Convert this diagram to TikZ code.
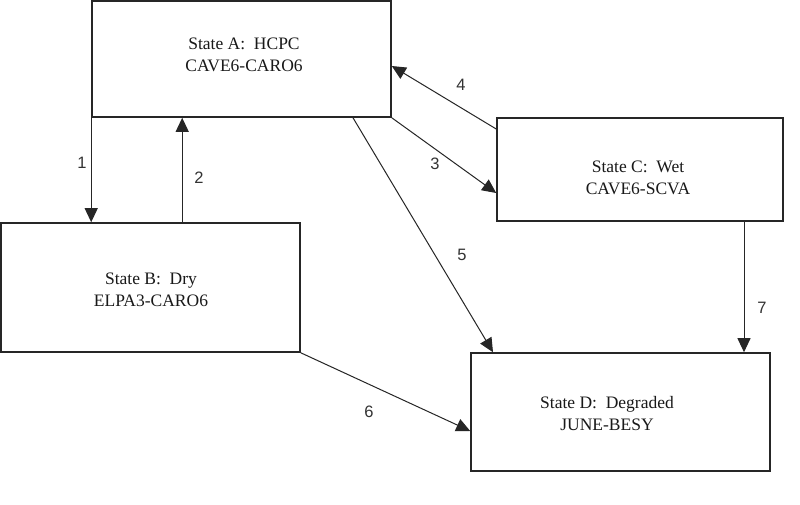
\documentclass[tikz,border=0pt]{standalone}
\usepackage{fontspec}
\setmainfont{Liberation Serif}
\newfontfamily\numfont{Liberation Sans}
\usetikzlibrary{arrows.meta,calc}
\begin{document}
\begin{tikzpicture}[x=1pt,y=-1pt,
  statebox/.style={draw=black!85,line width=1.6pt,inner sep=0pt,anchor=center},
  statetext/.style={align=center,font=\fontsize{17.5}{22}\selectfont,text=black!90,inner sep=0pt},
  conn/.style={draw=black!85,line width=1pt,-{Triangle[length=14pt,width=13pt]}},
  num/.style={font=\numfont\fontsize{16.5}{18}\selectfont,text=black!80,inner sep=0pt}]
\useasboundingbox[fill=white] (0,0) rectangle (800,505);
% boxes
\node[statebox,minimum width=299pt,minimum height=116pt] (A) at (241.5,59) {};
\node[statebox,minimum width=299pt,minimum height=129pt] (B) at (150.5,287.5) {};
\node[statebox,minimum width=286pt,minimum height=103pt] (C) at (640,169.5) {};
\node[statebox,minimum width=299pt,minimum height=118pt] (D) at (620.5,412) {};
% texts
\node[statetext] (At) at (244,55) {State A:~ HCPC\\CAVE6-CARO6};
\node[statetext] (Bt) at (151,290) {State B:~ Dry\\ELPA3-CARO6};
\node[statetext] (Ct) at (638,178) {State C:~ Wet\\CAVE6-SCVA};
\node[statetext] (Dt) at (607,414) {State D:~ Degraded\\JUNE-BESY};
% connectors
\draw[conn] (A.south west) -- (A.south west |- B.north);
\coordinate (b2) at ($(B.north west)+(182,0)$);
\draw[conn] (b2) -- (b2 |- A.south);
\draw[conn] (A.south east) -- (C.west |- {(0,193)});
\draw[conn] (C.west |- {(0,129)}) -- (A.east |- {(0,66)});
\coordinate (a5) at (A.south -| {(353,0)});
\draw[conn] (a5) -- (D.north -| {(493,0)});
\draw[conn] (B.south east) -- (D.west |- {(0,431)});
\coordinate (c7) at (C.south -| {(744,0)});
\draw[conn] (c7) -- (c7 |- D.north);
% labels
\node[num] (n1) at (82,163) {1};
\node[num] (n2) at (199,178) {2};
\node[num] (n3) at (435,164) {3};
\node[num] (n4) at (461,85) {4};
\node[num] (n5) at (462,255) {5};
\node[num] (n6) at (369,412) {6};
\node[num] (n7) at (762,308) {7};
\end{tikzpicture}
\end{document}
